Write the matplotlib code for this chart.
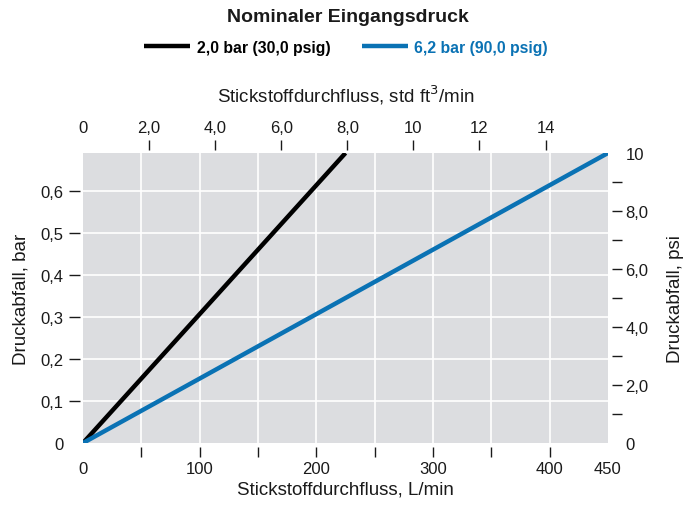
import matplotlib
matplotlib.use("Agg")
import matplotlib.pyplot as plt
from matplotlib.ticker import FixedLocator, FixedFormatter

plt.rcParams['font.family'] = ['Liberation Sans', 'DejaVu Sans']

# ---- data ----
series_labels = ["2,0 bar (30,0 psig)", "6,2 bar (90,0 psig)"]
series_colors = ["#000000", "#0a72b4"]
flow_lpm_low = [0, 225]          # L/min
drop_bar_low = [0, 0.6895]       # bar
flow_lpm_high = [0, 450]
drop_bar_high = [0, 0.6895]

x_labels_pos = [0, 100, 200, 300, 400, 450]
x_labels = ["0", "100", "200", "300", "400", "450"]
x_tick_marks = [50, 100, 150, 200, 250, 300, 350, 400]

top_labels_pos = [0, 2, 4, 6, 8, 10, 12, 14]
top_labels = ["0", "2,0", "4,0", "6,0", "8,0", "10", "12", "14"]
top_tick_marks = [2, 4, 6, 8, 10, 12, 14]

y_labels_pos = [0, 0.1, 0.2, 0.3, 0.4, 0.5, 0.6]
y_labels = ["0", "0,1", "0,2", "0,3", "0,4", "0,5", "0,6"]
y_tick_marks = [0.1, 0.2, 0.3, 0.4, 0.5, 0.6]

r_labels_pos = [0, 2, 4, 6, 8, 10]
r_labels = ["0", "2,0", "4,0", "6,0", "8,0", "10"]
r_tick_marks = [1, 2, 3, 4, 5, 6, 7, 8, 9]

LPM_PER_CFM = 28.3168
BAR_PER_PSI = 1 / 14.5038
xmax = 450
ymax = 10 * BAR_PER_PSI

fig = plt.figure(figsize=(6.93, 5.06), dpi=100)
ax = fig.add_axes([83/693, 62/506, 525/693, 290/506])
ax.set_facecolor("#dcdde0")
for s in ax.spines.values():
    s.set_visible(False)

ax.plot(flow_lpm_low, drop_bar_low, color=series_colors[0], lw=3.2,
        solid_capstyle='butt', label=series_labels[0], zorder=3, clip_on=True)
ax.plot(flow_lpm_high, drop_bar_high, color=series_colors[1], lw=3.2,
        solid_capstyle='butt', label=series_labels[1], zorder=3, clip_on=True)
ax.set_xlim(0, xmax)
ax.set_ylim(0, ymax)

fs = 12
lfs = 13.5
tc = "#1a1a1a"
# bottom axis
ax.xaxis.remove_overlapping_locs = False
ax.yaxis.remove_overlapping_locs = False
ax.xaxis.set_major_locator(FixedLocator(x_labels_pos))
ax.xaxis.set_major_formatter(FixedFormatter(x_labels))
ax.xaxis.set_minor_locator(FixedLocator(x_tick_marks))
ax.spines['bottom'].set_position(('outward', 3))
ax.tick_params(axis='x', which='major', length=0, pad=10, labelsize=fs, labelcolor=tc)
ax.tick_params(axis='x', which='minor', length=7, width=1, color=tc, direction='out')
# left axis
ax.yaxis.set_major_locator(FixedLocator(y_labels_pos))
ax.yaxis.set_major_formatter(FixedFormatter(y_labels))
ax.yaxis.set_minor_locator(FixedLocator(y_tick_marks))
ax.spines['left'].set_position(('outward', 2))
ax.tick_params(axis='y', which='major', length=0, pad=12, labelsize=fs, labelcolor=tc)
ax.tick_params(axis='y', which='minor', length=8, width=1, color=tc, direction='out')

ax.grid(which='minor', color='white', lw=1.2)
ax.set_axisbelow(True)

ax.set_xlabel("Stickstoffdurchfluss, L/min", fontsize=lfs, color=tc, labelpad=3)
ax.set_ylabel("Druckabfall, bar", fontsize=lfs, color=tc, labelpad=8)

# top axis
axt = ax.twiny()
axt.xaxis.remove_overlapping_locs = False
for s in axt.spines.values():
    s.set_visible(False)
axt.set_xlim(0, xmax / LPM_PER_CFM)
axt.spines['top'].set_position(('outward', 2))
axt.xaxis.set_major_locator(FixedLocator(top_labels_pos))
axt.xaxis.set_major_formatter(FixedFormatter(top_labels))
axt.xaxis.set_minor_locator(FixedLocator(top_tick_marks))
axt.tick_params(axis='x', which='major', length=0, pad=11, labelsize=fs, labelcolor=tc)
axt.tick_params(axis='x', which='minor', length=7.5, width=1, color=tc, direction='out')
axt.set_xlabel("Stickstoffdurchfluss, std ft$^3$/min", fontsize=lfs, color=tc, labelpad=13)

# right axis
axr = ax.twinx()
axr.yaxis.remove_overlapping_locs = False
for s in axr.spines.values():
    s.set_visible(False)
axr.set_ylim(0, 10)
axr.spines['right'].set_position(('outward', 3))
axr.yaxis.set_major_locator(FixedLocator(r_labels_pos))
axr.yaxis.set_major_formatter(FixedFormatter(r_labels))
axr.yaxis.set_minor_locator(FixedLocator(r_tick_marks))
axr.tick_params(axis='y', which='major', length=0, pad=9.5, labelsize=fs, labelcolor=tc)
axr.tick_params(axis='y', which='minor', length=7, width=1, color=tc, direction='out')
axr.set_ylabel("Druckabfall, psi", fontsize=lfs, color=tc, labelpad=13)

fig.text(348/693, 1 - 17/506, "Nominaler Eingangsdruck", ha='center', va='center',
         fontsize=14, fontweight='bold', color=tc)
handles, labels = ax.get_legend_handles_labels()
leg = fig.legend(handles, labels, loc='center', bbox_to_anchor=(346/693, 1 - 48/506),
                 ncol=2, frameon=False, handlelength=2.9, handletextpad=0.4,
                 columnspacing=2.0, prop={'weight': 'bold', 'size': 11.4},
                 labelcolor=series_colors)

fig.savefig("out.png", dpi=100)
